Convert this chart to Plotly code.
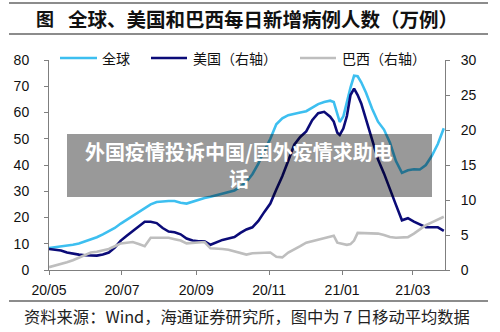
import plotly.graph_objects as go

dates = ["2020-05-01","2020-05-06","2020-05-11","2020-05-16","2020-05-21","2020-05-26","2020-05-31",
         "2020-06-05","2020-06-10","2020-06-15","2020-06-20","2020-06-25","2020-06-30",
         "2020-07-05","2020-07-10","2020-07-15","2020-07-20","2020-07-25","2020-07-30",
         "2020-08-04","2020-08-09","2020-08-14","2020-08-19","2020-08-24","2020-08-29",
         "2020-09-03","2020-09-08","2020-09-13","2020-09-18","2020-09-23","2020-09-28",
         "2020-10-03","2020-10-08","2020-10-13","2020-10-18","2020-10-23","2020-10-28",
         "2020-11-02","2020-11-07","2020-11-12","2020-11-17","2020-11-22","2020-11-27",
         "2020-12-02","2020-12-07","2020-12-12","2020-12-17","2020-12-22","2020-12-25","2020-12-28","2020-12-30",
         "2021-01-02","2021-01-05","2021-01-08","2021-01-11","2021-01-14","2021-01-17","2021-01-21","2021-01-26","2021-01-31",
         "2021-02-05","2021-02-10","2021-02-15","2021-02-20","2021-02-25",
         "2021-03-02","2021-03-07","2021-03-12","2021-03-17","2021-03-22","2021-03-27"]

global_cases = [8.4,8.7,9.0,9.1,9.6,10.1,10.8,
                11.5,12.5,13.6,14.7,16.0,17.7,
                19.1,20.5,21.9,23.4,25.0,25.9,
                26.2,26.3,26.3,25.6,25.3,26.0,
                26.8,27.4,27.9,28.5,29.0,29.6,
                30.3,31.7,33.6,36.5,40.5,45.5,
                50.0,55.5,57.8,59.0,59.6,60.0,
                60.5,62.0,63.2,64.0,64.5,64.0,59.0,56.4,
                58.5,64.5,69.5,74.0,73.8,71.5,67.5,61.5,56.5,
                53.5,48.5,41.5,37.0,38.0,
                38.4,38.3,40.0,43.5,48.0,54.0]

us_cases = [3.0,2.9,2.8,2.5,2.3,2.2,2.1,
            2.05,2.05,2.2,2.5,3.2,4.2,
            4.9,5.6,6.3,6.9,6.9,6.7,
            6.0,5.5,5.4,5.1,4.5,4.2,
            4.1,4.1,3.6,4.0,4.3,4.5,
            4.7,5.3,5.8,6.1,7.0,8.3,
            9.5,11.5,13.4,15.6,17.9,19.0,
            19.8,21.4,22.4,22.6,21.9,21.2,19.6,19.3,
            20.2,22.0,25.0,25.9,25.0,23.8,21.5,18.5,15.8,
            13.8,11.4,9.3,7.1,7.4,
            6.9,6.5,6.1,6.1,6.1,5.6]

brazil_cases = [0.4,0.6,0.8,1.1,1.4,1.8,2.2,
                2.5,2.6,2.8,3.0,3.4,3.8,
                3.9,4.0,3.7,3.4,4.6,4.6,
                4.6,4.6,4.4,4.2,3.8,3.9,
                4.0,4.0,3.1,3.1,3.0,2.9,
                2.7,2.4,2.2,2.4,2.4,2.4,
                2.5,1.9,1.8,2.5,2.9,3.4,
                3.9,4.1,4.3,4.5,4.7,4.9,3.9,3.8,
                3.7,3.6,3.7,4.2,5.3,5.3,5.3,5.2,5.2,
                5.0,4.7,4.6,4.6,4.7,
                5.2,5.8,6.4,6.8,7.2,7.6]

x_tick_vals = ["2020-05-01","2020-07-01","2020-09-01","2020-11-01","2021-01-01","2021-03-01"]
x_tick_text = ["20/05","20/07","20/09","20/11","21/01","21/03"]
left_ticks = [0,10,20,30,40,50,60,70,80]
right_ticks = [0,5,10,15,20,25,30]
series_names = ["全球","美国（右轴）","巴西（右轴）"]
series_colors = ["#3DBFF0","#0B0B78","#BEBEBE"]
overlay_lines = ["外国疫情投诉中国/国外疫情求助电", "话"]

W, H = 500, 332
L, R, T, B = 49, 55, 60, 62
PW, PH = W - L - R, H - T - B

def px(x):
    return (x - L) / PW

def py(y):
    return (H - B - y) / PH

fig = go.Figure()
fig.add_trace(go.Scatter(x=dates, y=global_cases, name=series_names[0], mode="lines",
                         line=dict(color=series_colors[0], width=2.6), yaxis="y"))
fig.add_trace(go.Scatter(x=dates, y=us_cases, name=series_names[1], mode="lines",
                         line=dict(color=series_colors[1], width=2.6), yaxis="y2"))
fig.add_trace(go.Scatter(x=dates, y=brazil_cases, name=series_names[2], mode="lines",
                         line=dict(color=series_colors[2], width=2.6), yaxis="y2"))

tickfont = dict(family="Liberation Sans, Arial, sans-serif", size=14, color="#111111")
axcol = "#7F7F7F"

fig.update_layout(
    width=W, height=H,
    margin=dict(l=L, r=R, t=T, b=B, pad=0),
    paper_bgcolor="white", plot_bgcolor="white",
    showlegend=False,
    xaxis=dict(type="date", range=["2020-05-01", "2021-03-28"],
               tickvals=x_tick_vals, ticktext=x_tick_text,
               showgrid=False, zeroline=False, showline=True, linecolor=axcol, linewidth=1,
               ticks="outside", ticklen=4, tickcolor=axcol, tickfont=tickfont,
               ticklabelstandoff=3),
    yaxis=dict(range=[0, 80], tickvals=left_ticks, showgrid=False, zeroline=False,
               showline=True, linecolor=axcol, linewidth=1,
               ticks="outside", ticklen=4, tickcolor=axcol, tickfont=tickfont,
               ticklabelstandoff=12),
    yaxis2=dict(range=[0, 30], tickvals=right_ticks, overlaying="y", side="right",
                showgrid=False, zeroline=False, showline=True, linecolor=axcol, linewidth=1,
                ticks="outside", ticklen=4, tickcolor=axcol, tickfont=tickfont,
                ticklabelstandoff=8),
)

cjk = "Noto Sans CJK SC"
shapes = []
annotations = []

# header / footer rules
for yy in (3, 34, 301):
    shapes.append(dict(type="line", xref="paper", yref="paper",
                       x0=px(9), x1=px(488), y0=py(yy), y1=py(yy),
                       line=dict(color="#8C8C8C", width=2)))

# title
annotations.append(dict(text="<b>图</b>", xref="paper", yref="paper", x=px(45), y=py(18),
                        xanchor="center", yanchor="middle", showarrow=False,
                        font=dict(family=cjk, size=18, color="#111111")))
annotations.append(dict(text="<b>全球、美国和巴西每日新增病例人数（万例）</b>", xref="paper", yref="paper",
                        x=px(66), y=py(18), xanchor="left", yanchor="middle", showarrow=False,
                        font=dict(family=cjk, size=19.5, color="#111111")))

# legend (drawn manually)
leg_line = [(60, 97), (151, 187), (300, 336)]
leg_text_x = [100, 191, 340]
for i in range(3):
    shapes.append(dict(type="line", xref="paper", yref="paper",
                       x0=px(leg_line[i][0]), x1=px(leg_line[i][1]), y0=py(58), y1=py(58),
                       line=dict(color=series_colors[i], width=2.6)))
    annotations.append(dict(text=series_names[i], xref="paper", yref="paper",
                            x=px(leg_text_x[i]), y=py(58), xanchor="left", yanchor="middle",
                            showarrow=False, font=dict(family=cjk, size=14, color="#111111")))

# source
annotations.append(dict(text="资料来源：Wind，海通证券研究所，图中为 7 日移动平均数据", xref="paper", yref="paper",
                        x=px(22), y=py(316), xanchor="left", yanchor="middle", showarrow=False,
                        font=dict(family=cjk, size=16.3, color="#222222")))

# watermark overlay
shapes.append(dict(type="rect", xref="paper", yref="paper", layer="above",
                   x0=px(67), x1=px(432), y0=py(197), y1=py(134),
                   fillcolor="rgba(0,0,0,0.4)", line=dict(width=0)))
for txt, yy in zip(overlay_lines, (151, 178)):
    annotations.append(dict(text="<b>" + txt + "</b>", xref="paper", yref="paper",
                            x=px(239), y=py(yy), xanchor="center", yanchor="middle", showarrow=False,
                            font=dict(family=cjk, size=20, color="white")))

fig.update_layout(shapes=shapes, annotations=annotations)
fig.write_html("out.html")
